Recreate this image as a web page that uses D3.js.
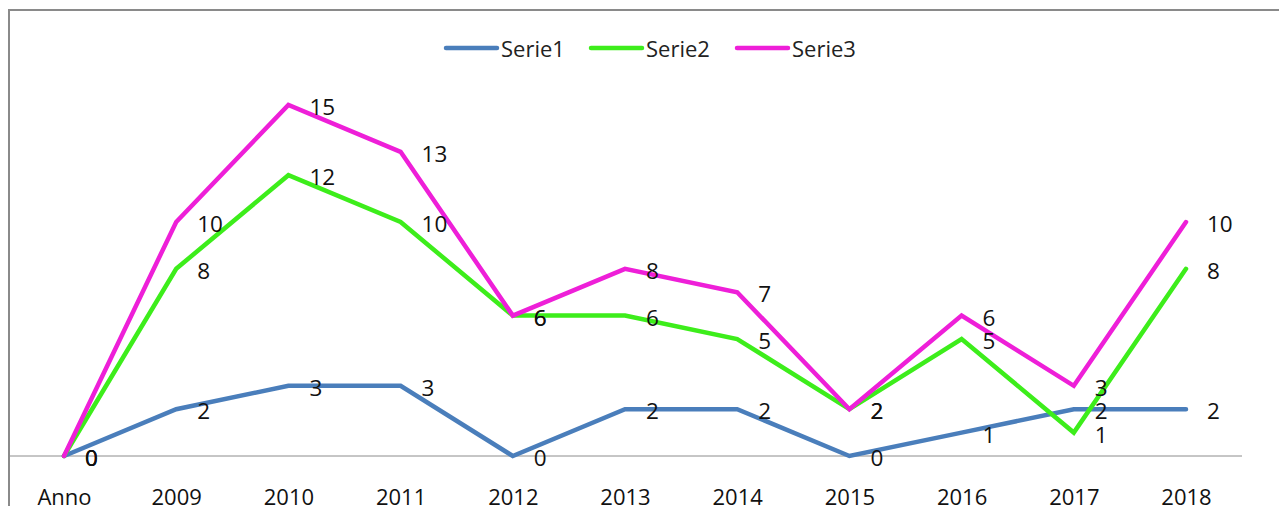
<!DOCTYPE html>
<html>
<head>
<meta charset="utf-8">
<script src="https://cdn.jsdelivr.net/npm/d3@7"></script>
<style>
  html, body { margin: 0; padding: 0; background: #fff; overflow: hidden; }
  svg { display: block; font-family: "Open Sans", "Liberation Sans", sans-serif; }
</style>
</head>
<body>
<svg id="chart"></svg>
<script>
// data
const categories = ["Anno", "2009", "2010", "2011", "2012", "2013", "2014", "2015", "2016", "2017", "2018"];
const serie1 = [0, 2, 3, 3, 0, 2, 2, 0, 1, 2, 2];
const serie2 = [0, 8, 12, 10, 6, 6, 5, 2, 5, 1, 8];
const serie3 = [0, 10, 15, 13, 6, 8, 7, 2, 6, 3, 10];
const seriesNames = ["Serie1", "Serie2", "Serie3"];

const colors = ["#4a7ebb", "#3ded1b", "#ee1fd8"];
const allSeries = [serie1, serie2, serie3];

const width = 1279;
const height = 506;

const svg = d3.select('#chart')
              .attr('width', width)
              .attr('height', height);

// outer frame (runs past the right and bottom edges)
svg.append('rect')
   .attr('x', 9)
   .attr('y', 10)
   .attr('width', 1300)
   .attr('height', 520)
   .attr('fill', 'none')
   .attr('stroke', '#8a8a8a')
   .attr('stroke-width', 2);

const x = d3.scalePoint()
            .domain(categories)
            .range([64, 1186]);

const y = d3.scaleLinear()
            .domain([0, 15])
            .range([456, 105]);

// baseline
svg.append('line')
   .attr('x1', 10)
   .attr('x2', 1242)
   .attr('y1', y(0))
   .attr('y2', y(0))
   .attr('stroke', '#8c8c8c')
   .attr('stroke-width', 1);

const xAxis = svg.append('g')
   .attr('transform', `translate(0,${y(0)})`)
   .call(d3.axisBottom(x).tickSize(0).tickPadding(33));
xAxis.select('.domain').remove();
xAxis.selectAll('text')
     .attr('font-size', '22px')
     .attr('font-family', '"Open Sans", "Liberation Sans", sans-serif')
     .attr('fill', '#111');

const line = d3.line()
               .x((d, i) => x(categories[i]))
               .y(d => y(d));

allSeries.forEach((vals, s) => {
    svg.append('path')
       .datum(vals)
       .attr('d', line)
       .attr('fill', 'none')
       .attr('stroke', colors[s])
       .attr('stroke-width', 4.5)
       .attr('stroke-linecap', 'round')
       .attr('stroke-linejoin', 'miter');
});

allSeries.forEach((vals, s) => {
    svg.append('g')
       .selectAll('text')
       .data(vals)
       .join('text')
       .attr('x', (d, i) => x(categories[i]) + 21)
       .attr('y', d => y(d) + 1.5)
       .attr('dominant-baseline', 'central')
       .attr('font-size', '22.5px')
       .attr('fill', '#111')
       .text(d => d);
});

// legend
const legendX = [446, 591, 737];
const legend = svg.append('g');
seriesNames.forEach((name, s) => {
    legend.append('line')
          .attr('x1', legendX[s])
          .attr('x2', legendX[s] + 51)
          .attr('y1', 48)
          .attr('y2', 48)
          .attr('stroke', colors[s])
          .attr('stroke-width', 4.5)
          .attr('stroke-linecap', 'round');
    legend.append('text')
          .attr('x', legendX[s] + 55)
          .attr('y', 48)
          .attr('dominant-baseline', 'central')
          .attr('font-size', '22px')
          .attr('fill', '#222')
          .text(name);
});
</script>
</body>
</html>
